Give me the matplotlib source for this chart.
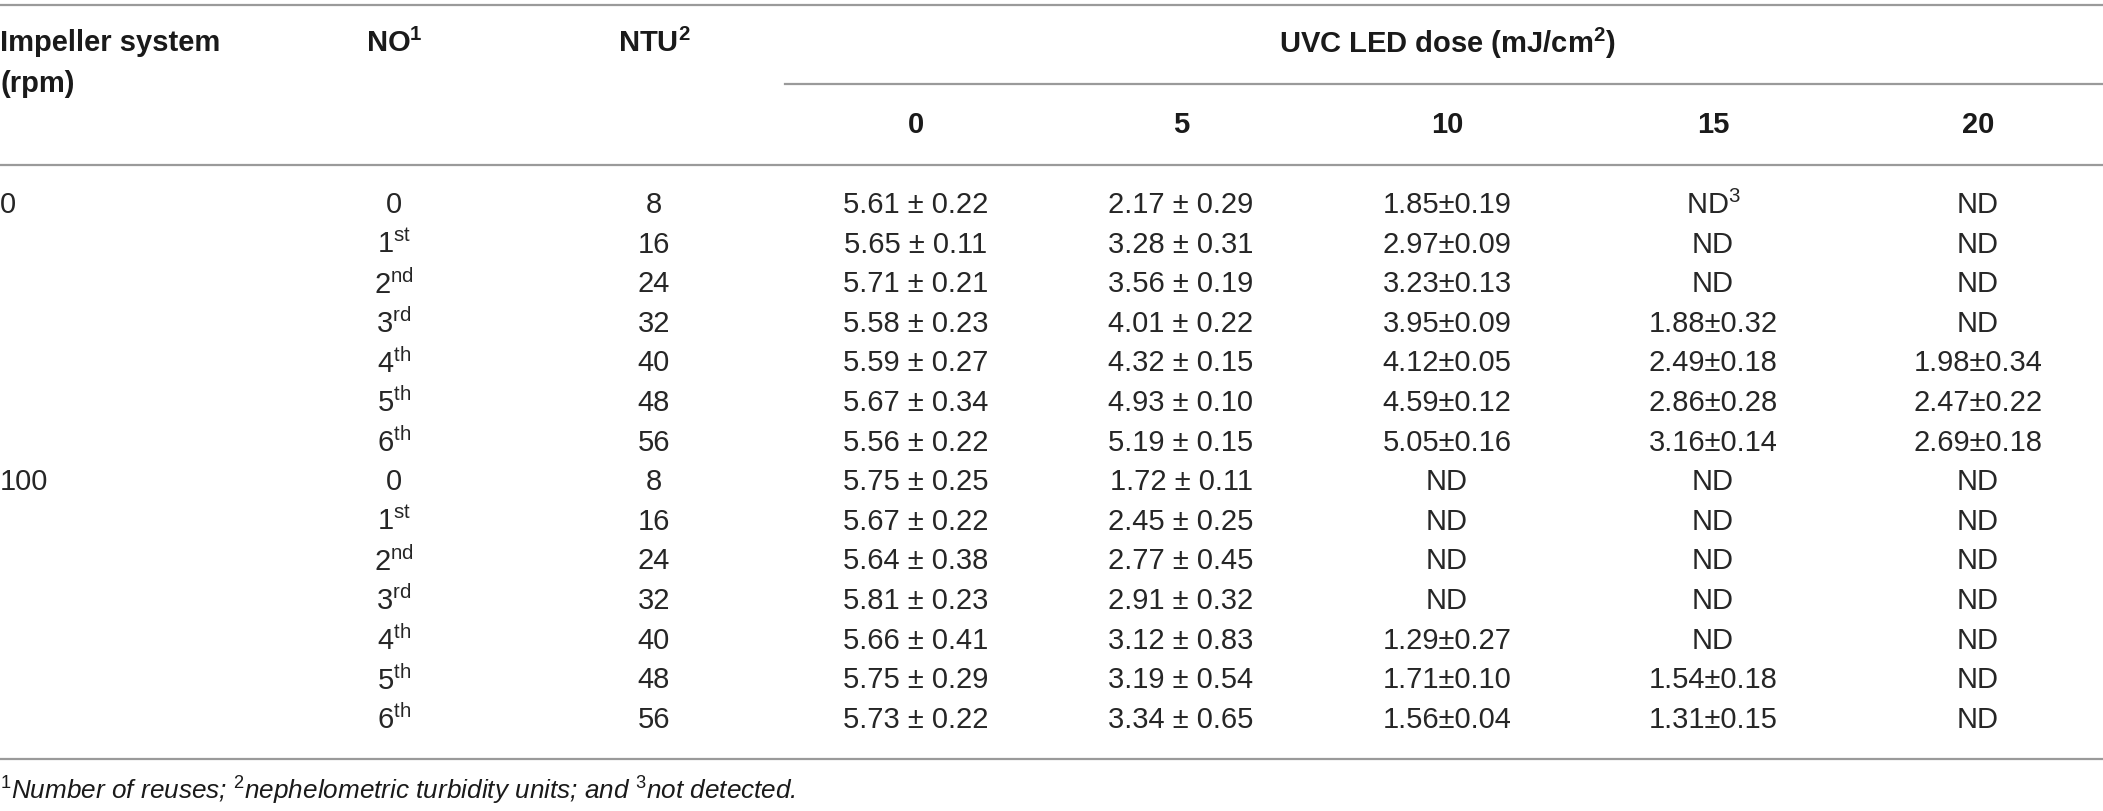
import matplotlib
matplotlib.use("Agg")
import matplotlib.pyplot as plt

plt.rcParams['font.family'] = ['Liberation Sans', 'DejaVu Sans']
plt.rcParams['mathtext.fontset'] = 'custom'
plt.rcParams['mathtext.rm'] = 'Liberation Sans'
plt.rcParams['mathtext.it'] = 'Liberation Sans:italic'
plt.rcParams['mathtext.bf'] = 'Liberation Sans:bold'

# table data
rpm_groups = ['0', '100']
reuse_no = ['0', '1st', '2nd', '3rd', '4th', '5th', '6th']
ntu = [8, 16, 24, 32, 40, 48, 56]
doses = [0, 5, 10, 15, 20]

# mean values per dose, rows: rpm 0 (7 rows) then rpm 100 (7 rows); None = not detected
mean_0 = [5.61, 5.65, 5.71, 5.58, 5.59, 5.67, 5.56, 5.75, 5.67, 5.64, 5.81, 5.66, 5.75, 5.73]
sd_0 = [0.22, 0.11, 0.21, 0.23, 0.27, 0.34, 0.22, 0.25, 0.22, 0.38, 0.23, 0.41, 0.29, 0.22]
mean_5 = [2.17, 3.28, 3.56, 4.01, 4.32, 4.93, 5.19, 1.72, 2.45, 2.77, 2.91, 3.12, 3.19, 3.34]
sd_5 = [0.29, 0.31, 0.19, 0.22, 0.15, 0.10, 0.15, 0.11, 0.25, 0.45, 0.32, 0.83, 0.54, 0.65]
mean_10 = [1.85, 2.97, 3.23, 3.95, 4.12, 4.59, 5.05, None, None, None, None, 1.29, 1.71, 1.56]
sd_10 = [0.19, 0.09, 0.13, 0.09, 0.05, 0.12, 0.16, None, None, None, None, 0.27, 0.10, 0.04]
mean_15 = [None, None, None, 1.88, 2.49, 2.86, 3.16, None, None, None, None, None, 1.54, 1.31]
sd_15 = [None, None, None, 0.32, 0.18, 0.28, 0.14, None, None, None, None, None, 0.18, 0.15]
mean_20 = [None, None, None, None, 1.98, 2.47, 2.69, None, None, None, None, None, None, None]
sd_20 = [None, None, None, None, 0.34, 0.22, 0.18, None, None, None, None, None, None, None]

means = [mean_0, mean_5, mean_10, mean_15, mean_20]
sds = [sd_0, sd_5, sd_10, sd_15, sd_20]
spaced = [True, True, False, False, False]

W, H = 2103, 811
fig = plt.figure(figsize=(W / 100, H / 100), dpi=100)
ax = fig.add_axes([0, 0, 1, 1])
ax.set_xlim(0, W)
ax.set_ylim(H, 0)
ax.axis('off')

fs = 21
txt = '#1a1a1a'
body_c = '#262626'
line_c = '#9a9a9a'

def ord_label(s):
    if s == '0':
        return '0'
    return s[0] + r'$^{\mathrm{' + s[1:] + '}}$'

# horizontal rules
ax.plot([0, W], [5, 5], color=line_c, lw=1.6)
ax.plot([785, W], [84, 84], color=line_c, lw=1.6)
ax.plot([0, W], [165, 165], color=line_c, lw=1.6)
ax.plot([0, W], [759, 759], color=line_c, lw=1.6)

# header
x_no, x_ntu = 394, 654
x_dose = [916, 1181, 1447, 1713, 1978]
ax.text(0, 43, 'Impeller system', fontsize=fs, fontweight='bold', color=txt, va='center', ha='left')
ax.text(0, 84, '(rpm)', fontsize=fs, fontweight='bold', color=txt, va='center', ha='left')
ax.text(x_no, 43, r'NO$^{\mathbf{1}}$', fontsize=fs, fontweight='bold', color=txt, va='center', ha='center')
ax.text(x_ntu, 43, r'NTU$^{\mathbf{2}}$', fontsize=fs, fontweight='bold', color=txt, va='center', ha='center')
ax.text(x_dose[2], 43, r'UVC LED dose (mJ/cm$^{\mathbf{2}}$)', fontsize=fs, fontweight='bold',
        color=txt, va='center', ha='center')
for xd, d in zip(x_dose, doses):
    ax.text(xd, 125, str(d), fontsize=fs, fontweight='bold', color=txt, va='center', ha='center')

# body
y0, dy = 205, 39.6
n = len(reuse_no)
for g, grp in enumerate(rpm_groups):
    ax.text(0, y0 + g * n * dy, grp, fontsize=fs, color=body_c, va='center', ha='left')
    for i in range(n):
        r = g * n + i
        y = y0 + r * dy
        ax.text(x_no, y, ord_label(reuse_no[i]), fontsize=fs, color=body_c, va='center', ha='center')
        ax.text(x_ntu, y, str(ntu[i]), fontsize=fs, color=body_c, va='center', ha='center')
        for c in range(len(doses)):
            m, s = means[c][r], sds[c][r]
            if m is None:
                lab = 'ND'
                if r == 0 and c == 3:
                    lab = r'ND$^{3}$'
            elif spaced[c]:
                lab = f'{m:.2f} \u00b1 {s:.2f}'
            else:
                lab = f'{m:.2f}\u00b1{s:.2f}'
            ax.text(x_dose[c], y, lab, fontsize=fs, color=body_c, va='center', ha='center')

# footnote
ax.text(0, 791, r'$^{\mathit{1}}$Number of reuses; $^{\mathit{2}}$nephelometric turbidity units; and $^{\mathit{3}}$not detected.',
        fontsize=18.8, style='italic', color=txt, va='center', ha='left')

fig.savefig('out.png', dpi=100)
